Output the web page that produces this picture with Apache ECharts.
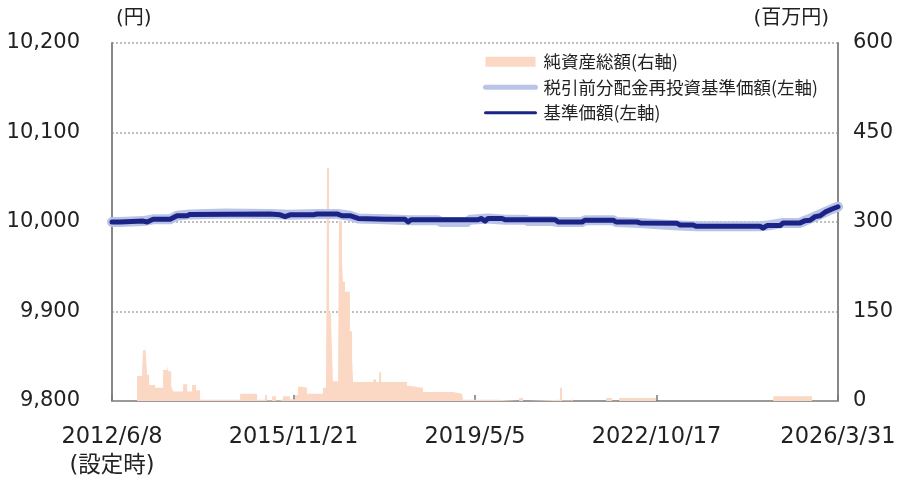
<!DOCTYPE html>
<html>
<head>
<meta charset="utf-8">
<script src="https://cdn.jsdelivr.net/npm/echarts@6/dist/echarts.min.js"></script>
<style>
    html, body { margin: 0; padding: 0; background: #fff; }
    #chart1 { width: 902px; height: 481px; }
</style>
</head>
<body>
<div id="chart1"></div>
<script>
// x軸（設定日から満期まで）
var startDate = '2012-06-08';
var endDate = '2026-03-31';
var xTickLabels = ['2012/6/8\n(設定時)', '2015/11/21', '2019/5/5', '2022/10/17', '2026/3/31'];

// 基準価額（左軸）
var navDates = ['2012-06-08', '2012-08-04', '2013-01-10', '2013-02-07', '2013-03-21', '2013-07-17', '2013-09-03',
    '2013-11-12', '2013-12-03', '2015-06-11', '2015-08-20', '2015-09-23', '2015-10-28', '2016-04-05', '2016-05-02',
    '2016-09-18', '2016-10-23', '2016-12-17', '2017-02-12', '2017-08-19', '2018-01-04', '2018-01-25', '2018-02-15',
    '2019-05-26', '2019-06-16', '2019-07-14', '2019-08-04', '2019-11-09', '2019-11-30', '2020-11-12', '2020-12-03',
    '2021-05-18', '2021-06-08', '2021-12-20', '2022-01-09', '2022-06-04', '2022-06-25', '2023-03-09', '2023-03-30',
    '2023-06-28', '2023-07-19', '2024-10-05', '2024-10-26', '2024-11-23', '2025-02-22', '2025-03-15', '2025-07-11',
    '2025-08-15', '2025-09-18', '2025-10-23', '2025-11-27', '2025-12-31', '2026-02-18', '2026-03-31'];
var navValues = [10000, 10000, 10001, 10000, 10003, 10003, 10007,
    10007, 10008.5, 10009, 10008, 10006, 10008, 10008, 10009,
    10009, 10007, 10007, 10004, 10003, 10003, 10000, 10002.5,
    10002.5, 10004, 10001, 10004, 10004, 10002.5, 10002.5, 10000,
    10000, 10002, 10002, 10000, 10000, 9999, 9998.5, 9996.7,
    9996.7, 9995.2, 9995.2, 9993.3, 9996, 9996, 9999, 9999,
    10001.5, 10002, 10006, 10007, 10011, 10014.5, 10017];

// 税引前分配金再投資基準価額（左軸）
var reinvDates = ['2012-06-08', '2012-08-04', '2013-01-10', '2013-03-21', '2013-07-17', '2013-09-03', '2013-12-03',
    '2014-08-01', '2015-06-11', '2015-10-28', '2016-05-02', '2016-09-18', '2016-12-17', '2017-02-12', '2017-08-19',
    '2018-02-15', '2018-08-20', '2018-09-10', '2019-03-10', '2019-04-01', '2019-08-04', '2019-11-30', '2020-04-20',
    '2020-05-10', '2020-10-20', '2020-12-03', '2021-05-18', '2021-06-08', '2021-12-20', '2022-01-09', '2022-06-25',
    '2022-12-20', '2023-03-30', '2023-07-19', '2024-10-05', '2024-11-23', '2025-03-15', '2025-07-11', '2025-08-15',
    '2025-10-23', '2025-12-31', '2026-02-18', '2026-03-31'];
var reinvValues = [10000, 10000, 10001, 10003, 10003, 10007, 10008.5,
    10009.5, 10009, 10008, 10009, 10009, 10007, 10004, 10003,
    10002, 10002, 10000, 10000, 10002.5, 10004, 10002.5, 10002.5,
    10001, 10001, 10000, 10000, 10002, 10002, 10000, 9999,
    9997, 9996, 9995.2, 9995.2, 9996, 9999, 9999, 10001.5,
    10006, 10011, 10014.5, 10017];

// 純資産総額（右軸、百万円）
var assetDates = ['2012-06-08', '2012-11-29', '2013-01-03', '2013-01-10', '2013-01-24', '2013-01-31', '2013-02-07',
    '2013-02-21', '2013-04-04', '2013-05-29', '2013-06-26', '2013-07-03', '2013-07-24', '2013-08-06', '2013-10-15',
    '2013-11-12', '2013-12-17', '2014-01-13', '2014-02-10', '2014-11-15', '2015-03-13', '2015-05-07', '2015-05-21',
    '2015-06-25', '2015-07-23', '2015-08-20', '2015-09-09', '2015-10-28', '2015-12-02', '2015-12-22', '2016-01-19',
    '2016-02-23', '2016-06-13', '2016-07-04', '2016-07-11', '2016-07-25', '2016-08-08', '2016-08-21', '2016-09-25',
    '2016-10-02', '2016-10-23', '2016-10-30', '2016-11-13', '2016-12-17', '2017-01-01', '2017-01-08', '2017-05-27',
    '2017-06-17', '2017-07-08', '2017-07-22', '2018-01-18', '2018-02-08', '2018-02-15', '2018-05-09', '2018-12-04',
    '2019-02-04', '2019-02-11', '2019-10-05', '2020-03-06', '2020-04-03', '2020-05-08', '2020-12-16', '2020-12-30',
    '2021-03-10', '2021-03-17', '2021-11-01', '2021-12-13', '2022-01-31', '2022-10-14', '2025-01-05', '2025-10-02',
    '2026-03-31'];
var assetValues = [0, 42, 51, 85, 95, 72, 44,
    27, 22, 52, 60, 50, 25, 16, 28,
    16, 27, 18, 2, 12, 2, 10, 1,
    8, 1, 3, 8, 3, 10, 24, 22,
    12, 22, 36, 391, 147, 135, 33, 13,
    302, 233, 200, 183, 117, 72, 32, 36,
    32, 48, 32, 25, 27, 22, 15, 12,
    15, 2, 0, 5, 0, 2, 22, 1,
    5, 0, 5, 0, 5, 0, 8, 0,
    0];

var chart1 = echarts.init(document.getElementById('chart1'));
var fontName = '"DejaVu Sans", "Noto Sans CJK JP", sans-serif';
var cjkFont = '"Noto Sans CJK JP", sans-serif';

function toDay(d) {
    return (Date.parse(d) - Date.parse(startDate)) / 86400000;
}
function pairs(dates, values) {
    var out = [];
    for (var i = 0; i < dates.length; i++) {
        out.push([toDay(dates[i]), values[i]]);
    }
    return out;
}

var totalDays = toDay(endDate);
var xInterval = totalDays / (xTickLabels.length - 1);

var option = {
    animation: false,
    textStyle: { fontFamily: fontName },
    grid: { left: 112, right: 64, top: 43, bottom: 78 },
    legend: {
        orient: 'vertical',
        left: 483,
        top: 53,
        padding: 0,
        itemWidth: 50,
        itemHeight: 10,
        itemGap: 8,
        textStyle: { fontSize: 17.5, color: '#222', fontFamily: cjkFont, padding: [0, 0, 0, 3] },
        data: [
            { name: '純資産総額(右軸)', icon: 'rect' },
            // 線のみ表示（マーカーは透明）
            { name: '税引前分配金再投資基準価額(左軸)', itemStyle: { opacity: 0 }, lineStyle: { width: 5 } },
            { name: '基準価額(左軸)', itemStyle: { opacity: 0 }, lineStyle: { width: 3 } }
        ]
    },
    xAxis: {
        type: 'value',
        min: 0,
        max: totalDays,
        interval: xInterval,
        axisLine: { lineStyle: { color: '#999', width: 2 } },
        axisTick: { show: true, inside: true, length: 6, lineStyle: { color: '#777', width: 1.5 } },
        splitLine: { show: false },
        axisLabel: {
            margin: 22,
            fontSize: 22.5,
            lineHeight: 29,
            color: '#222',
            formatter: function (v) {
                return xTickLabels[Math.round(v / xInterval)];
            }
        }
    },
    yAxis: [{
        type: 'value',
        min: 9800,
        max: 10200,
        interval: 100,
        name: '(円)',
        nameGap: 14,
        nameTextStyle: { fontSize: 20, color: '#222', align: 'left', padding: [0, 0, 0, 4] },
        axisLine: { show: true, lineStyle: { color: '#888', width: 2 } },
        axisTick: { show: false },
        splitLine: { lineStyle: { color: '#aaa', type: [2, 2], width: 1.5 } },
        axisLabel: { fontSize: 21, color: '#222', margin: 32 }
    }, {
        type: 'value',
        min: 0,
        max: 600,
        interval: 150,
        name: '(百万円)',
        nameGap: 14,
        nameTextStyle: { fontSize: 20, color: '#222', align: 'right', padding: [0, 9, 0, 0] },
        axisLine: { show: true, lineStyle: { color: '#888', width: 2 } },
        axisTick: { show: false },
        splitLine: { show: false },
        axisLabel: { fontSize: 21, color: '#222', margin: 15 }
    }],
    series: [{
        name: '純資産総額(右軸)',
        type: 'line',
        yAxisIndex: 1,
        step: 'end',
        symbol: 'none',
        data: pairs(assetDates, assetValues),
        itemStyle: { color: '#fbd8c4' },
        lineStyle: { width: 0 },
        areaStyle: { color: '#fbd8c4', opacity: 1 }
    }, {
        name: '税引前分配金再投資基準価額(左軸)',
        type: 'line',
        symbol: 'none',
        data: pairs(reinvDates, reinvValues),
        itemStyle: { color: '#b9c4e7' },
        lineStyle: { color: '#b9c4e7', width: 10, join: 'round', cap: 'round' }
    }, {
        name: '基準価額(左軸)',
        type: 'line',
        symbol: 'none',
        data: pairs(navDates, navValues),
        itemStyle: { color: '#1c2386' },
        lineStyle: { color: '#1c2386', width: 5, join: 'round', cap: 'round' }
    }]
};
chart1.setOption(option, true);
</script>
</body>
</html>
